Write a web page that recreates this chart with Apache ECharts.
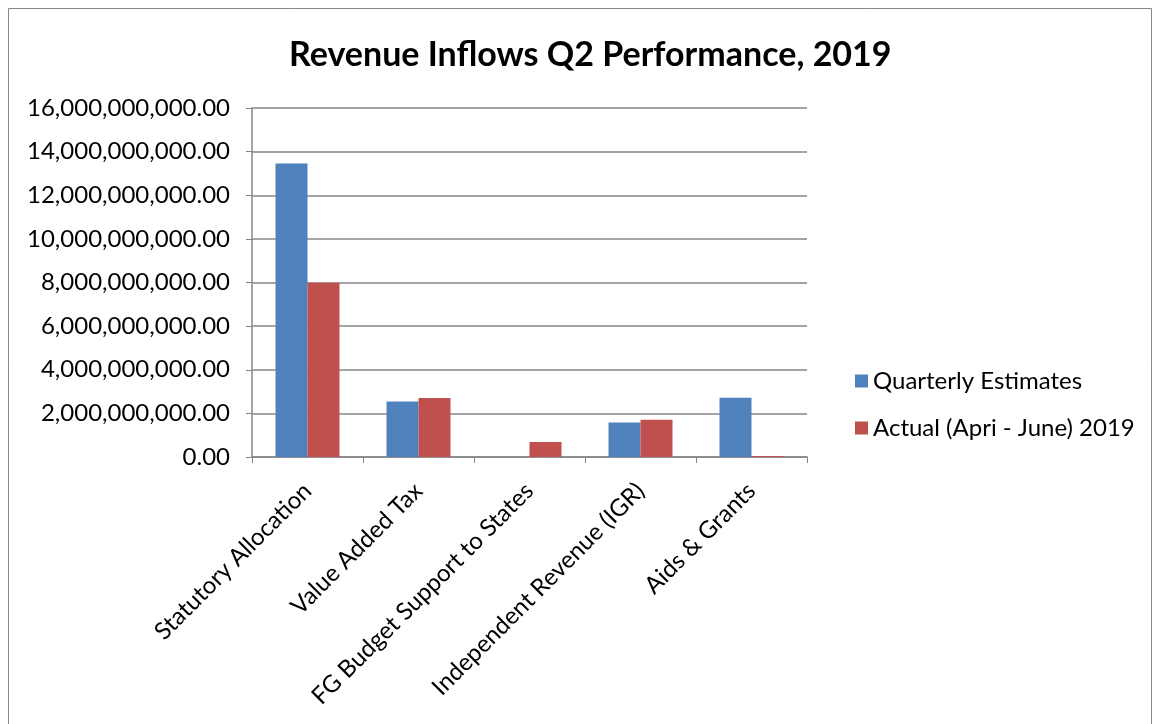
<!DOCTYPE html>
<html>
<head>
<meta charset="utf-8">
<title>Revenue Inflows Q2 Performance, 2019</title>
<script src="https://cdn.jsdelivr.net/npm/echarts@6/dist/echarts.min.js"></script>
<style>
	html, body { margin: 0; padding: 0; background: #fff; }
	#chart { width: 1154px; height: 724px; }
</style>
</head>
<body>
<div id="chart"></div>
<script>
// categories and values (naira)
var categories = [ 'Statutory Allocation', 'Value Added Tax', 'FG Budget Support to States', 'Independent Revenue (IGR)', 'Aids & Grants' ];
var estimates = [ 13450000000, 2550000000, 0, 1580000000, 2720000000 ];
var actuals = [ 7990000000, 2710000000, 690000000, 1710000000, 50000000 ];
var seriesNames = [ 'Quarterly Estimates', 'Actual (Apri - June) 2019' ];

var FONT = 'Lato';

// 16,000,000,000.00
function money(v) {
	var s = Math.round(v).toString().replace(/\B(?=(\d{3})+(?!\d))/g, ',');
	return s + '.00';
}

var chart = echarts.init(document.getElementById('chart'));
var option = {
	animation : false,
	textStyle : { fontFamily : FONT },
	title : {
		text : 'Revenue Inflows Q2 Performance, 2019',
		left : 284,
		top : 33,
		textStyle : { fontSize : 34, fontWeight : 'bold', color : '#000', fontFamily : FONT }
	},
	legend : {
		orient : 'vertical',
		left : 850,
		top : 364,
		itemWidth : 13,
		itemHeight : 13,
		itemGap : 23,
		icon : 'rect',
		textStyle : { fontSize : 24, color : '#000', fontFamily : FONT },
		data : seriesNames
	},
	grid : { left : 252, right : 347, top : 108, bottom : 267, containLabel : false },
	xAxis : {
		type : 'category',
		data : categories,
		axisLine : { lineStyle : { color : '#868686', width : 1.5 } },
		axisTick : { show : true, length : 6, alignWithLabel : false, lineStyle : { color : '#868686' } },
		axisLabel : { rotate : 45, fontSize : 24, color : '#000', margin : 30, interval : 0, fontFamily : FONT },
		splitLine : { show : false }
	},
	yAxis : {
		type : 'value',
		min : 0,
		max : 16000000000,
		interval : 2000000000,
		axisLine : { show : true, lineStyle : { color : '#868686', width : 1.5 } },
		axisTick : { show : true, inside : false, length : 6, lineStyle : { color : '#868686' } },
		axisLabel : { fontSize : 24, color : '#000', margin : 22, formatter : money, fontFamily : FONT },
		splitLine : { show : true, lineStyle : { color : '#868686', width : 1.5 } }
	},
	series : [ {
		name : seriesNames[0],
		type : 'bar',
		data : estimates,
		barWidth : 32,
		barGap : '0%',
		itemStyle : { color : '#4F81BD' }
	}, {
		name : seriesNames[1],
		type : 'bar',
		data : actuals,
		barWidth : 32,
		barGap : '0%',
		itemStyle : { color : '#C0504D' }
	} ],
	graphic : [ {
		type : 'rect',
		shape : { x : 8.5, y : 8.5, width : 1143, height : 760 },
		style : { fill : 'none', stroke : '#868686', lineWidth : 1 },
		silent : true
	} ]
};
chart.setOption(option);
</script>
</body>
</html>
